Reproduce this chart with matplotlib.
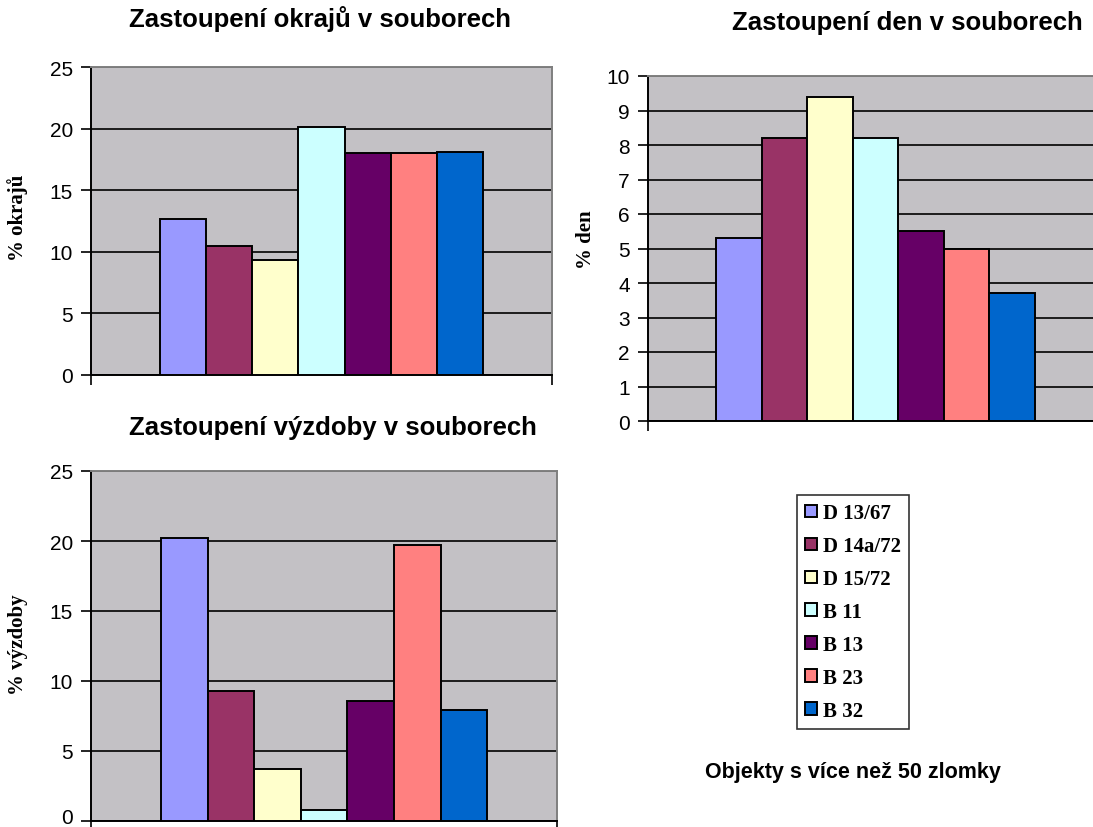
import numpy as np
import matplotlib.pyplot as plt
import matplotlib.transforms as mtransforms

# ── data ─────────────────────────────────────────────────────────────────────
soubory = ["D 13/67", "D 14a/72", "D 15/72", "B 11", "B 13", "B 23", "B 32"]
barvy = ["#9999FF", "#993366", "#FFFFCC", "#CCFFFF", "#660066", "#FF8080", "#0066CC"]

okraje = [12.7, 10.5, 9.3, 20.1, 18.0, 18.0, 18.1]
dna = [5.3, 8.2, 9.4, 8.2, 5.5, 5.0, 3.7]
vyzdoba = [20.2, 9.3, 3.7, 0.8, 8.6, 19.7, 7.9]

okraje_ticks = [0, 5, 10, 15, 20, 25]
dna_ticks = list(range(0, 11))
vyzdoba_ticks = [0, 5, 10, 15, 20, 25]

W, H = 1093, 828
PLOT_BG = "#C3C1C5"


def px_axes(fig, left, right, top, bottom):
    """Axes from pixel edges of the 1093x828 picture."""
    return fig.add_axes([left / W, 1 - bottom / H, (right - left) / W, (bottom - top) / H])


def bar_panel(ax, values, ticks):
    n = len(values)
    w = 0.70 / n
    x = (np.arange(n) - (n - 1) / 2) * w
    bars = ax.bar(x, values, width=w, color=barvy, edgecolor="black",
                  linewidth=1.4, zorder=3)
    ax.set_xlim(-0.5, 0.5)
    ax.set_ylim(ticks[0], ticks[-1])
    ax.set_yticks(ticks)
    ax.set_xticks([-0.5, 0.5])
    ax.set_xticklabels([])
    ax.set_facecolor(PLOT_BG)
    ax.grid(axis="y", color="black", lw=1.2, zorder=1)
    ax.set_axisbelow(True)
    for s in ("left", "bottom"):
        ax.spines[s].set_color("black")
        ax.spines[s].set_linewidth(1.4)
    for s in ("top", "right"):
        ax.spines[s].set_color("#7F7F7F")
        ax.spines[s].set_linewidth(1.4)
    ax.tick_params(axis="both", direction="out", length=7, width=1.2, color="black")
    ax.tick_params(axis="y", labelsize=15, pad=6)
    for t in ax.get_yticklabels():
        t.set_fontfamily("Liberation Sans")
    return bars


fig = plt.figure(figsize=(W / 100, H / 100), dpi=100)
fig.patch.set_facecolor("white")

ax1 = px_axes(fig, 91, 552, 68, 376)
bars = bar_panel(ax1, okraje, okraje_ticks)

ax2 = px_axes(fig, 648, 1103, 77, 422)
bar_panel(ax2, dna, dna_ticks)

ax3 = px_axes(fig, 91, 557, 472, 822)
bar_panel(ax3, vyzdoba, vyzdoba_ticks)
# the "0" sits on the bottom edge; nudge it up so it is not clipped
lab0 = ax3.get_yticklabels()[0]
lab0.set_transform(lab0.get_transform() +
                   mtransforms.ScaledTranslation(0, 5 / 100, fig.dpi_scale_trans))

title_kw = dict(fontsize=18.5, fontweight="bold", family="Liberation Sans",
                ha="center", va="center")
fig.text(320 / W, 1 - 19 / H, "Zastoupení okrajů v souborech", **title_kw)
fig.text(907 / W, 1 - 23 / H, "Zastoupení den v souborech", **title_kw)
fig.text(333 / W, 1 - 428 / H, "Zastoupení výzdoby v souborech", **title_kw)

ylab_kw = dict(fontsize=15, fontweight="bold", family="Liberation Serif",
               rotation=90, ha="center", va="center")
fig.text(18 / W, 1 - 218 / H, "% okrajů", **ylab_kw)
fig.text(586 / W, 1 - 240 / H, "% den", **ylab_kw)
fig.text(18 / W, 1 - 645 / H, "% výzdoby", **ylab_kw)

leg = fig.legend(bars, soubory, loc="upper left",
                 bbox_to_anchor=(797 / W, 1 - 496 / H), borderaxespad=0,
                 frameon=True, fancybox=False, edgecolor="black",
                 prop={"family": "Liberation Serif", "weight": "bold", "size": 15},
                 handlelength=0.55, handleheight=0.55, handletextpad=0.3,
                 labelspacing=0.62, borderpad=0.4)
leg.get_frame().set_linewidth(1.2)

fig.text(853 / W, 1 - 773 / H, "Objekty s více než 50 zlomky", fontsize=15.5,
         fontweight="bold", family="Liberation Sans", ha="center", va="center")

fig.savefig("out.png", dpi=100)
